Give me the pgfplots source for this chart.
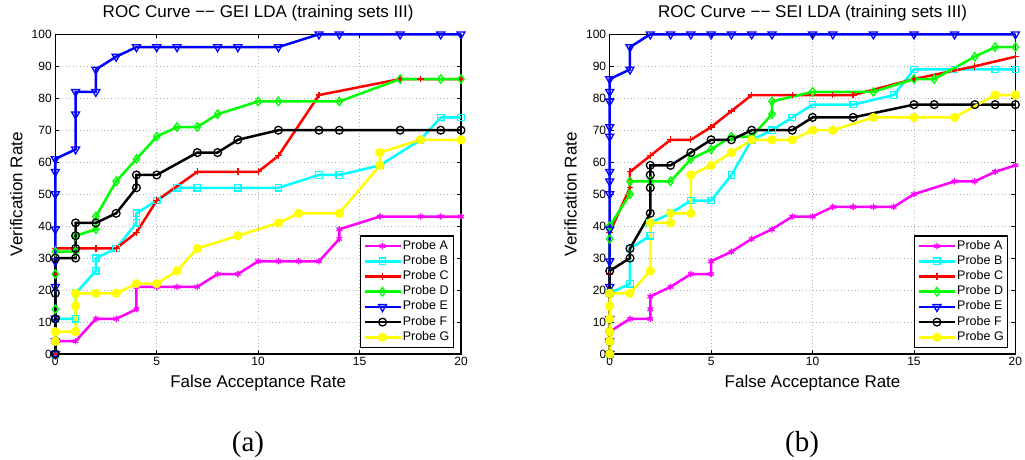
\documentclass[border=0pt]{standalone}
\usepackage{pgfplots}
\pgfplotsset{compat=1.18}
\usepackage{fontspec}
\setmainfont{Liberation Sans}
\newfontfamily\timesfont{Liberation Serif}
\definecolor{cMag}{rgb}{1,0,1}
\definecolor{cCya}{rgb}{0,1,1}
\definecolor{cRed}{rgb}{1,0,0}
\definecolor{cGre}{rgb}{0,1,0}
\definecolor{cBlu}{rgb}{0,0,1}
\definecolor{cBla}{rgb}{0,0,0}
\definecolor{cYel}{rgb}{1,1,0}

\pgfplotsset{
  rocaxis/.style={
    anchor=south west, scale only axis, width=405.7pt, height=319.7pt,
    xmin=0, xmax=20, ymin=0, ymax=100,
    xtick={0,5,10,15,20}, ytick={0,10,...,100},
    grid=major,
    major grid style={gray!60, line width=0.8pt, dash pattern=on 0.8pt off 2.7pt},
    tick align=inside, major tick length=4pt,
    tick style={black, line width=0.9pt},
    axis line style={black, line width=1.4pt},
    clip=false,
    /pgf/number format/assume math mode=true,
    ticklabel style={font=\fontsize{12}{14}\selectfont},
    title style={font=\fontsize{17}{20}\selectfont, at={(axis description cs:0.5,1.0344)}, anchor=base},
    xlabel style={font=\fontsize{17}{20}\selectfont, at={(axis description cs:0.5,-0.1063)}, anchor=base},
    ylabel style={font=\fontsize{17}{20}\selectfont, at={(axis description cs:-0.0813,0.5)}, anchor=base},
    xlabel={False Acceptance Rate}, ylabel={Verification Rate},
    legend style={at={(axis description cs:0.9827,0.0188)}, anchor=south east,
      font=\fontsize{12.5}{14}\selectfont, draw=black, line width=1.3pt,
      inner xsep=3pt, inner ysep=3pt, row sep=1.2pt,
      nodes={inner sep=1pt, text height=9pt, text depth=3pt},
      cells={anchor=west}},
    legend image code/.code={\draw[mark repeat=2,mark phase=2,#1] plot coordinates {(0pt,0pt) (18pt,0pt) (36pt,0pt)};},
  },
  sA/.style={color=cMag, line width=2.5pt, mark=asterisk, mark size=3.2pt, mark options={solid, line width=1.3pt}},
  sB/.style={color=cCya, line width=2.5pt, mark=square, mark size=3.2pt, mark options={solid, line width=1.3pt}},
  sC/.style={color=cRed, line width=2.5pt, mark=+, mark size=3.4pt, mark options={solid, line width=1.3pt}},
  sD/.style={color=cGre, line width=2.5pt, mark=diamond, mark size=4.2pt, mark options={solid, line width=1.3pt}},
  sE/.style={color=cBlu, line width=2.5pt, mark=triangle, mark size=4.6pt, mark options={solid, line width=1.3pt, rotate=180}},
  sF/.style={color=cBla, line width=2.5pt, mark=o, mark size=3.9pt, mark options={solid, line width=1.3pt}},
  sG/.style={color=cYel, line width=2.5pt, mark=*, mark size=3.3pt, mark options={solid, fill=cYel, draw=cYel}},
}

\begin{document}
\begin{tikzpicture}
\path[use as bounding box] (0pt,0pt) rectangle (1025pt,460pt);

\begin{axis}[rocaxis, at={(55.3pt,106pt)},
  title={ROC Curve −− GEI LDA (training sets III)}]
\addplot[sA] coordinates {(0,0) (0,4) (1,4) (2,11) (3,11) (4,14) (4,21) (5,21) (6,21) (7,21) (8,25) (9,25) (10,29) (11,29) (12,29) (13,29) (14,36) (14,39) (16,43) (18,43) (19,43) (20,43)};
\addlegendentry{Probe A}
\addplot[sB] coordinates {(0,0) (0,11) (1,11) (1,19) (2,26) (2,30) (3,33) (4,41) (4,44) (5,48) (6,52) (7,52) (9,52) (11,52) (13,56) (14,56) (16,59) (18,67) (19,74) (20,74)};
\addlegendentry{Probe B}
\addplot[sC] coordinates {(0,0) (0,25) (0,33) (1,33) (2,33) (3,33) (4,38) (5,48) (7,57) (9,57) (10,57) (11,62) (13,81) (17,86) (18,86) (20,86)};
\addlegendentry{Probe C}
\addplot[sD] coordinates {(0,0) (0,14) (0,25) (0,32) (1,32) (1,37) (2,39) (2,43) (3,54) (4,61) (5,68) (6,71) (7,71) (8,75) (10,79) (11,79) (14,79) (17,86) (19,86) (20,86)};
\addlegendentry{Probe D}
\addplot[sE] coordinates {(0,0) (0,4) (0,11) (0,21) (0,29) (0,39) (0,50) (0,57) (0,61) (1,64) (1,75) (1,82) (2,82) (2,89) (3,93) (4,96) (5,96) (6,96) (8,96) (9,96) (11,96) (13,100) (14,100) (17,100) (19,100) (20,100)};
\addlegendentry{Probe E}
\addplot[sF] coordinates {(0,0) (0,4) (0,11) (0,19) (0,30) (1,30) (1,33) (1,37) (1,41) (2,41) (3,44) (4,52) (4,56) (5,56) (7,63) (8,63) (9,67) (11,70) (13,70) (14,70) (17,70) (19,70) (20,70)};
\addlegendentry{Probe F}
\addplot[sG] coordinates {(0,4) (0,7) (1,7) (1,15) (1,19) (2,19) (3,19) (4,22) (5,22) (6,26) (7,33) (9,37) (11,41) (12,44) (14,44) (16,59) (16,63) (18,67) (20,67)};
\addlegendentry{Probe G}
\end{axis}

\begin{axis}[rocaxis, at={(609.7pt,106pt)},
  title={ROC Curve −− SEI LDA (training sets III)}]
\addplot[sA] coordinates {(0,0) (0,7) (1,11) (2,11) (2,14) (2,18) (3,21) (4,25) (5,25) (5,29) (6,32) (7,36) (8,39) (9,43) (10,43) (11,46) (12,46) (13,46) (14,46) (15,50) (17,54) (18,54) (19,57) (20,59)};
\addlegendentry{Probe A}
\addplot[sB] coordinates {(0,0) (0,19) (1,22) (1,33) (2,37) (2,41) (3,44) (4,48) (5,48) (6,56) (7,67) (8,70) (9,74) (10,78) (12,78) (14,81) (15,89) (17,89) (19,89) (20,89)};
\addlegendentry{Probe B}
\addplot[sC] coordinates {(0,0) (0,25) (0,38) (1,52) (1,57) (2,62) (3,67) (4,67) (5,71) (6,76) (7,81) (9,81) (11,81) (12,81) (15,86) (18,90) (20,93)};
\addlegendentry{Probe C}
\addplot[sD] coordinates {(0,0) (0,36) (0,40) (1,50) (1,54) (2,54) (3,54) (4,61) (5,64) (6,68) (7,68) (8,75) (8,79) (10,82) (13,82) (15,86) (16,86) (18,93) (19,96) (20,96)};
\addlegendentry{Probe D}
\addplot[sE] coordinates {(0,0) (0,4) (0,11) (0,21) (0,29) (0,39) (0,50) (0,54) (0,57) (0,68) (0,71) (0,79) (0,82) (0,86) (1,89) (1,96) (2,100) (3,100) (4,100) (5,100) (6,100) (7,100) (8,100) (10,100) (11,100) (13,100) (15,100) (17,100) (20,100)};
\addlegendentry{Probe E}
\addplot[sF] coordinates {(0,0) (0,4) (0,7) (0,19) (0,26) (1,30) (1,33) (2,44) (2,52) (2,56) (2,59) (3,59) (4,63) (5,67) (6,67) (7,70) (9,70) (10,74) (12,74) (15,78) (16,78) (18,78) (19,78) (20,78)};
\addlegendentry{Probe F}
\addplot[sG] coordinates {(0,0) (0,4) (0,7) (0,11) (0,15) (0,19) (1,19) (2,26) (2,41) (3,41) (3,44) (4,44) (4,56) (5,59) (6,63) (7,67) (8,67) (9,67) (10,70) (11,70) (13,74) (15,74) (17,74) (19,81) (20,81)};
\addlegendentry{Probe G}
\end{axis}

\node[font=\timesfont\fontsize{29}{32}\selectfont, anchor=center] at (248pt,15pt) {(a)};
\node[font=\timesfont\fontsize{29}{32}\selectfont, anchor=center] at (802pt,15pt) {(b)};
\end{tikzpicture}
\end{document}
